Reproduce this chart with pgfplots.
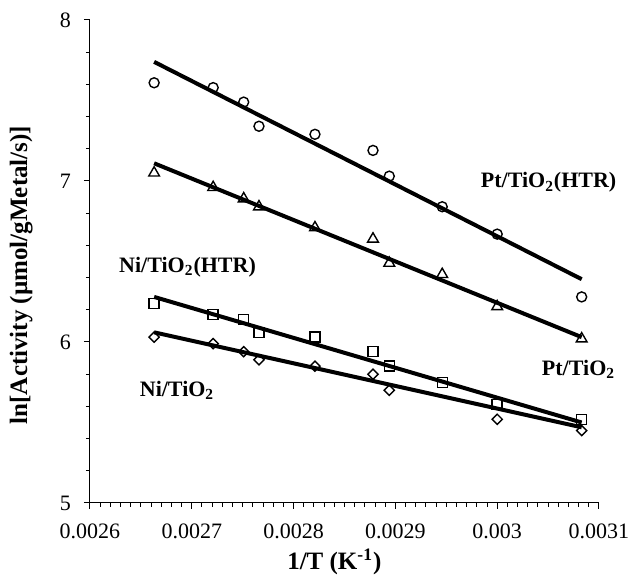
\documentclass[border=0pt]{standalone}
\usepackage{fontspec}
\setmainfont{Liberation Serif}
\usepackage{pgfplots}
\pgfplotsset{compat=1.18}
\begin{document}
\begin{tikzpicture}
\useasboundingbox (-45pt,-37.5pt) rectangle (269.5pt,251.5pt);
\begin{axis}[
  scale only axis,
  width=254.5pt, height=241.5pt,
  xmin=0.0026, xmax=0.0031, ymin=5, ymax=8,
  axis lines*=left,
  axis line style={line width=0.5pt},
  tick align=outside,
  tick style={line width=0.5pt, black},
  major tick length=3pt, minor tick length=2pt,
  xtick={0.0026,0.0027,0.0028,0.0029,0.003,0.0031},
  xticklabels={0.0026,0.0027,0.0028,0.0029,0.003,0.0031},
  scaled x ticks=false,
  ytick={5,6,7,8},
  minor x tick num=9,
  minor y tick num=4,
  /pgf/number format/assume math mode=true,
  tick label style={font=\fontsize{11}{13}\selectfont},
  xticklabel style={yshift=-4pt},
  yticklabel style={xshift=-3pt},
  xlabel={\textbf{1/T (K\textsuperscript{-1})}},
  ylabel={\textbf{ln[Activity (µmol/gMetal/s)]}},
  label style={font=\fontsize{12.5}{14}\selectfont},
  xlabel style={at={(axis description cs:0.48,-0.122)}, anchor=center},
  ylabel style={at={(axis description cs:-0.135,0.472)}, anchor=center},
  clip=false,
]
% Pt/TiO2(HTR)
\addplot[only marks, mark=o, mark size=2.5pt, mark options={line width=0.7pt, black}] coordinates {
(0.002663,7.61)(0.002721,7.58)(0.002751,7.49)(0.002766,7.34)(0.002821,7.29)
(0.002878,7.19)(0.002894,7.03)(0.002946,6.84)(0.003000,6.67)(0.003083,6.28)};
\addplot[black, line width=2pt] coordinates {(0.002663,7.74)(0.003083,6.39)};
% Pt/TiO2
\addplot[only marks, mark=triangle, mark size=3.1pt, mark options={line width=0.7pt, black}] coordinates {
(0.002663,7.05)(0.002721,6.96)(0.002751,6.89)(0.002766,6.84)(0.002821,6.71)
(0.002878,6.64)(0.002894,6.49)(0.002946,6.42)(0.003000,6.22)(0.003083,6.02)};
\addplot[black, line width=2pt] coordinates {(0.002663,7.11)(0.003083,6.03)};
% Ni/TiO2(HTR)
\addplot[only marks, mark=square, mark size=2.5pt, mark options={line width=0.7pt, black}] coordinates {
(0.002663,6.24)(0.002721,6.17)(0.002751,6.14)(0.002766,6.06)(0.002821,6.03)
(0.002878,5.94)(0.002894,5.85)(0.002946,5.75)(0.003000,5.61)(0.003083,5.52)};
\addplot[black, line width=2pt] coordinates {(0.002663,6.28)(0.003083,5.50)};
% Ni/TiO2
\addplot[only marks, mark=square, mark size=1.8pt, mark options={line width=0.7pt, black, rotate=45}] coordinates {
(0.002663,6.03)(0.002721,5.99)(0.002751,5.94)(0.002766,5.89)(0.002821,5.85)
(0.002878,5.80)(0.002894,5.70)(0.003000,5.52)(0.003083,5.45)};
\addplot[black, line width=2pt] coordinates {(0.002663,6.06)(0.003083,5.47)};
\node[font=\fontsize{11}{13}\selectfont\bfseries, anchor=center] at (axis cs:0.0030505,6.99) {Pt/TiO\textsubscript{2}(HTR)};
\node[font=\fontsize{11}{13}\selectfont\bfseries, anchor=center] at (axis cs:0.0030799,5.83) {Pt/TiO\textsubscript{2}};
\node[font=\fontsize{11}{13}\selectfont\bfseries, anchor=center] at (axis cs:0.0026958,6.466) {Ni/TiO\textsubscript{2}(HTR)};
\node[font=\fontsize{11}{13}\selectfont\bfseries, anchor=center] at (axis cs:0.0026855,5.70) {Ni/TiO\textsubscript{2}};
\end{axis}
\end{tikzpicture}
\end{document}
